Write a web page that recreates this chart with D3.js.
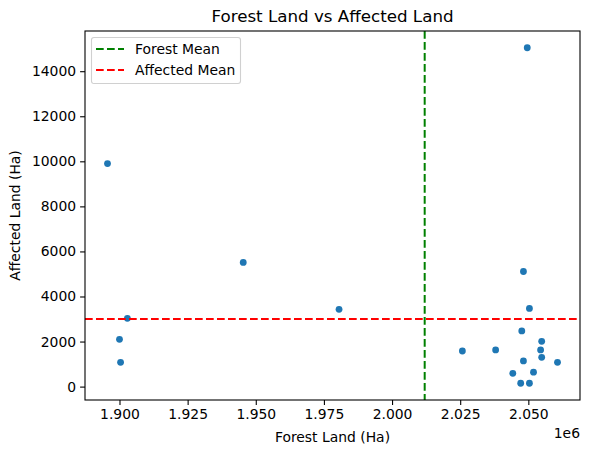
<!DOCTYPE html>
<html>
<head>
<meta charset="utf-8">
<script src="https://cdn.jsdelivr.net/npm/d3@7"></script>
<style>
  body { margin: 0; background: #fff; }
  svg text { font-family: "DejaVu Sans", sans-serif; fill: #000; }
</style>
</head>
<body>
<script>
// Forest land vs affected land
const forestLand = [
    1895600, 1902900, 1900000, 1900400, 1945400, 1980550,
    2049600, 2048200, 2050400, 2047600, 2054900, 2025800, 2038000,
    2054500, 2054900, 2048200, 2060700, 2044300, 2051900, 2047200, 2050400
];
const affectedLand = [
    9900, 3030, 2100, 1080, 5510, 3430,
    15040, 5110, 3470, 2470, 2010, 1580, 1630,
    1630, 1300, 1140, 1080, 590, 640, 150, 150
];
const xTicks = [1900000, 1925000, 1950000, 1975000, 2000000, 2025000, 2050000];
const yTicks = [0, 2000, 4000, 6000, 8000, 10000, 12000, 14000];
const legendLabels = ['Forest Mean', 'Affected Mean'];

let width = 589;
let height = 453;
let margin = {top: 31, right: 9, bottom: 53, left: 85};
let fontSize = '13.9px';

let points = forestLand.map((f, i) => ({x: f, y: affectedLand[i]}));
let forestMean = d3.mean(forestLand);
let affectedMean = d3.mean(affectedLand);

// matplotlib style 5% padding round the data
function padded(values) {
    let [lo, hi] = d3.extent(values);
    let pad = (hi - lo) * 0.05;
    return [lo - pad, hi + pad];
}

let x = d3.scaleLinear()
    .domain(padded(forestLand))
    .range([margin.left, width - margin.right]);
let y = d3.scaleLinear()
    .domain(padded(affectedLand))
    .range([height - margin.bottom, margin.top]);

let svg = d3.select('body')
    .append('svg')
    .attr('width', width)
    .attr('height', height);

// points
svg.selectAll('.dot')
    .data(points)
    .join('circle')
        .attr('class', 'dot')
        .attr('cx', d => x(d.x))
        .attr('cy', d => y(d.y))
        .attr('r', 3.4)
        .style('fill', '#1f77b4');

// mean lines
svg.append('line')
    .attr('x1', x(forestMean)).attr('x2', x(forestMean))
    .attr('y1', margin.top).attr('y2', height - margin.bottom)
    .attr('stroke', 'green')
    .attr('stroke-width', 2)
    .attr('stroke-dasharray', '7.7,3.3');
svg.append('line')
    .attr('x1', margin.left).attr('x2', width - margin.right)
    .attr('y1', y(affectedMean)).attr('y2', y(affectedMean))
    .attr('stroke', 'red')
    .attr('stroke-width', 2)
    .attr('stroke-dasharray', '7.7,3.3');

// axes
let xAxis = svg.append('g')
    .attr('transform', `translate(0,${height - margin.bottom})`)
    .call(d3.axisBottom(x).tickValues(xTicks).tickSize(4.9).tickPadding(4)
        .tickFormat(d => (d / 1e6).toFixed(3)));
let yAxis = svg.append('g')
    .attr('transform', `translate(${margin.left},0)`)
    .call(d3.axisLeft(y).tickValues(yTicks).tickSize(4.9).tickPadding(4)
        .tickFormat(d3.format('d')));
[xAxis, yAxis].forEach(g => {
    g.select('.domain').remove();
    g.selectAll('.tick line').attr('stroke', '#000').attr('stroke-width', 1.1);
    g.selectAll('.tick text').style('font-size', fontSize).style('fill', '#000');
});

// frame
svg.append('rect')
    .attr('x', margin.left)
    .attr('y', margin.top)
    .attr('width', width - margin.left - margin.right)
    .attr('height', height - margin.top - margin.bottom)
    .attr('fill', 'none')
    .attr('stroke', '#000')
    .attr('stroke-width', 1.1);

// texts
svg.append('text')
    .attr('x', (margin.left + width - margin.right) / 2)
    .attr('y', 22)
    .attr('text-anchor', 'middle')
    .style('font-size', '16.7px')
    .text('Forest Land vs Affected Land');
svg.append('text')
    .attr('x', (margin.left + width - margin.right) / 2)
    .attr('y', 442)
    .attr('text-anchor', 'middle')
    .style('font-size', fontSize)
    .text('Forest Land (Ha)');
svg.append('text')
    .attr('transform', `translate(20,${(margin.top + height - margin.bottom) / 2}) rotate(-90)`)
    .attr('text-anchor', 'middle')
    .style('font-size', fontSize)
    .text('Affected Land (Ha)');
svg.append('text')
    .attr('x', width - margin.right)
    .attr('y', 438)
    .attr('text-anchor', 'end')
    .style('font-size', fontSize)
    .text('1e6');

// legend
let legend = svg.append('g')
    .attr('transform', `translate(${margin.left + 6.5},${margin.top + 6.5})`);
legend.append('rect')
    .attr('width', 149)
    .attr('height', 46)
    .attr('rx', 2.5)
    .attr('fill', '#fff')
    .attr('fill-opacity', 0.8)
    .attr('stroke', '#d0d0d0')
    .attr('stroke-width', 1.1);
let legendColors = ['green', 'red'];
legendLabels.forEach((label, i) => {
    let yy = 11.5 + i * 21;
    legend.append('line')
        .attr('x1', 4.5).attr('x2', 32.5)
        .attr('y1', yy).attr('y2', yy)
        .attr('stroke', legendColors[i])
        .attr('stroke-width', 2)
        .attr('stroke-dasharray', '7.7,3.3');
    legend.append('text')
        .attr('x', 43.5)
        .attr('y', yy + 5)
        .style('font-size', fontSize)
        .text(label);
});
</script>
</body>
</html>
